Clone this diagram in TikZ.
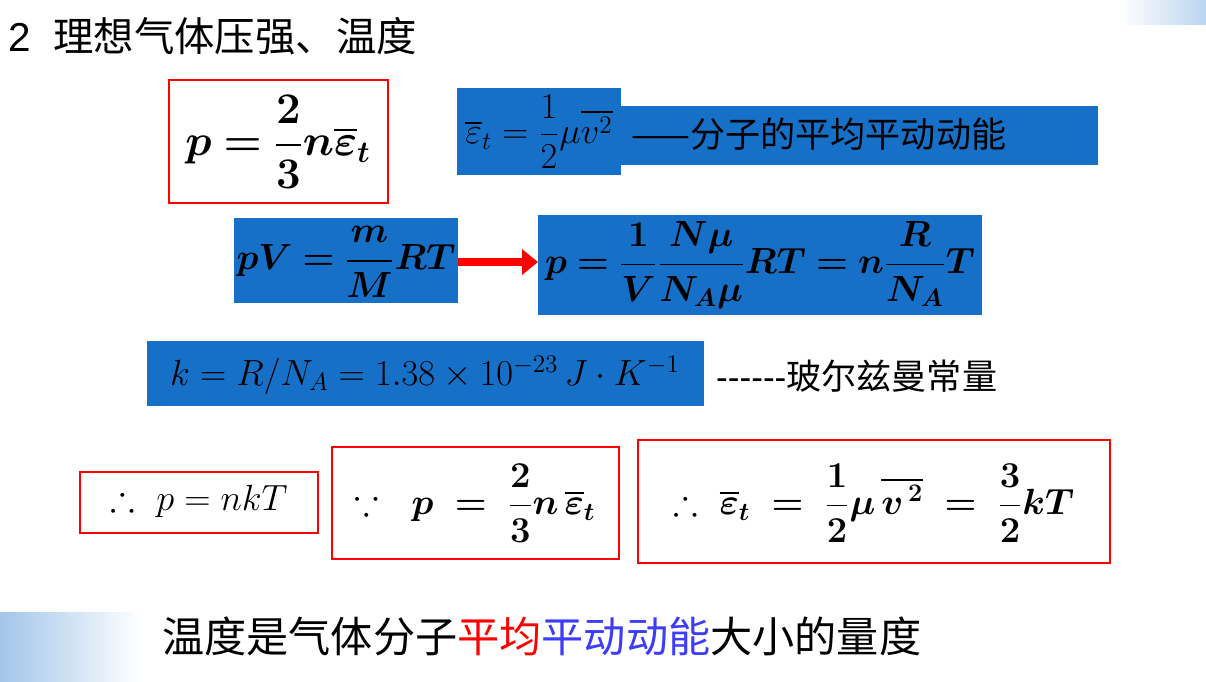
\documentclass[tikz,border=0pt]{standalone}
\usepackage{amsmath,amssymb,bm}
\usepackage{fontspec}
\usetikzlibrary{arrows.meta}
\newfontfamily\cjk{Noto Sans CJK SC}
\newfontfamily\sans{Liberation Sans}
\definecolor{bl}{RGB}{22,112,200}
\definecolor{txtblue}{RGB}{60,60,250}
\begin{document}
\begin{tikzpicture}[x=0.02cm,y=-0.02cm,
 rbox/.style={draw=red,line width=1.6pt},
 bbox/.style={fill=bl},
 big/.style={font=\fontsize{25}{30}\selectfont},
 med/.style={font=\fontsize{21}{25}\selectfont},
 mid/.style={font=\fontsize{20}{24}\selectfont}]
\useasboundingbox (0,0) rectangle (1206,682);
\fill[white] (0,0) rectangle (1206,682);
% decorations
\shade[left color=bl!40,right color=white] (0,612) rectangle (140,682);
\shade[left color=white,right color=bl!30] (1120,0) rectangle (1206,25);
\node[anchor=base west,inner sep=0pt,font=\fontsize{23}{28}\selectfont] (title) at (8,52) {\sans 2\ \ \cjk 理想气体压强、温度};
% box 1
\draw[rbox] (169,80) rectangle (388,203);
\node[big] (f1) at (278,142) {$\bm{p=\dfrac{2}{3}n\overline{\varepsilon}_t}$};
% epsilon def
\fill[bbox] (457,88) rectangle (621,175);
\fill[bbox] (621,106) rectangle (1098,165);
\node[mid] (f2) at (539,132) {$\overline{\varepsilon}_t=\dfrac{1}{2}\mu\overline{v^2}$};
\node[anchor=west,font=\fontsize{20}{24}\selectfont] (t2) at (625,134) {\cjk ——分子的平均平动动能};
% pV
\fill[bbox] (234,218) rectangle (458,303);
\node[med] (f3) at (346,262) {$\bm{pV=\dfrac{m}{M}RT}$};
\fill[bbox] (538,215) rectangle (982,315);
\node[med] (f4) at (760,265) {$\bm{p=\dfrac{1}{V}\dfrac{N\mu}{N_A\mu}RT=n\dfrac{R}{N_A}T}$};
\coordinate (a1) at (458,262);
\coordinate (a2) at (538,262);
\draw[red,line width=5pt,-{Triangle[length=9pt,width=14pt]}] (a1) -- (a2);
% k
\fill[bbox] (147,341) rectangle (704,406);
\node[font=\fontsize{20}{24}\selectfont] (f5) at (425,375) {$k=R/N_A=1.38\times10^{-23}\,J\cdot K^{-1}$};
\node[anchor=west,font=\fontsize{20}{24}\selectfont] (t5) at (710,376) {\sans ------\cjk 玻尔兹曼常量};
% bottom boxes
\draw[rbox] (80,472) rectangle (318,533);
\node[med] (f6) at (199,501) {$\therefore\ p=nkT$};
\draw[rbox] (332,447) rectangle (619,559);
\node[med] (f7) at (475,503) {$\because\ \ \bm{p\ =\ \dfrac{2}{3}n\,\overline{\varepsilon}_t}$};
\draw[rbox] (638,440) rectangle (1110,563);
\node[med] (f8) at (874,503) {$\therefore\ \bm{\overline{\varepsilon}_t\ =\ \dfrac{1}{2}\mu\,\overline{v^{\,2}}\ =\ \dfrac{3}{2}kT}$};
% bottom text
\node[anchor=west,font=\fontsize{24}{28}\selectfont] (t9) at (156,636) {\cjk 温度是气体分子\textcolor{red}{平均}\textcolor{txtblue}{平动动能}大小的量度};
\end{tikzpicture}
\end{document}
